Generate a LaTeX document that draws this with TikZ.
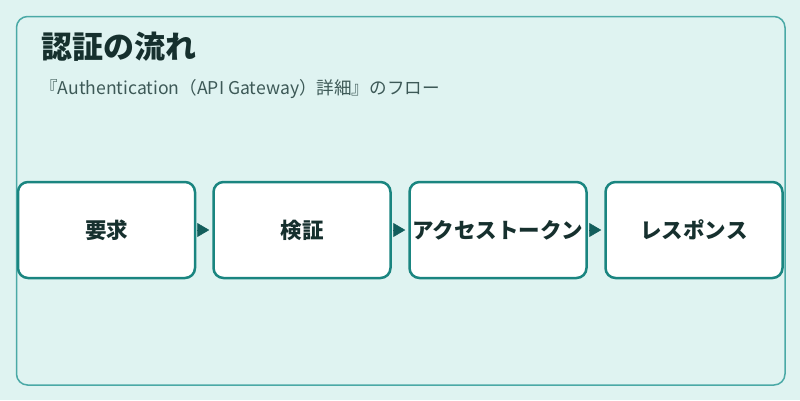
\documentclass[tikz,border=0pt]{standalone}
\usepackage{fontspec}
\setmainfont{Noto Sans CJK JP}
\usetikzlibrary{arrows.meta}
\definecolor{bgc}{HTML}{DFF3F1}
\definecolor{framec}{HTML}{4AA9A6}
\definecolor{boxc}{HTML}{1A8580}
\definecolor{arrc}{HTML}{135E5C}
\definecolor{titlec}{HTML}{16302E}
\definecolor{subc}{HTML}{3D5957}
\tikzset{
  stepbox/.style={draw=boxc, line width=2.5pt, fill=white, rounded corners=10pt,
    minimum width=177pt, minimum height=96pt, inner sep=0pt,
    font=\fontsize{21.5}{26}\selectfont\bfseries, text=titlec},
  flowarrow/.style={draw=arrc, fill=arrc, line width=0.5pt,
    -{Triangle[length=12pt,width=14pt]}, shorten <=2pt, shorten >=3pt}
}
\begin{document}
\begin{tikzpicture}[x=1pt,y=-1pt]
\fill[bgc] (0,0) rectangle (800,400);
\useasboundingbox (0,0) rectangle (800,400);
\draw[framec, line width=1.5pt, rounded corners=11pt] (16.5,16.5) rectangle (785,385);
\node[anchor=west, text=titlec, font=\fontsize{31}{36}\selectfont\bfseries, inner sep=0pt] (title) at (41,47) {認証の流れ};
\node[anchor=west, text=subc, font=\fontsize{17.6}{21}\selectfont, inner sep=0pt] (sub) at (40,89) {『Authentication（API Gateway）詳細』のフロー};
\node[stepbox] (s1) at (106.5,230) {要求};
\node[stepbox] (s2) at (302,230) {検証};
\node[stepbox] (s3) at (498,230) {アクセストークン};
\node[stepbox] (s4) at (694,230) {レスポンス};
\draw[flowarrow] (s1.east) -- (s2.west);
\draw[flowarrow] (s2.east) -- (s3.west);
\draw[flowarrow] (s3.east) -- (s4.west);
\end{tikzpicture}
\end{document}
